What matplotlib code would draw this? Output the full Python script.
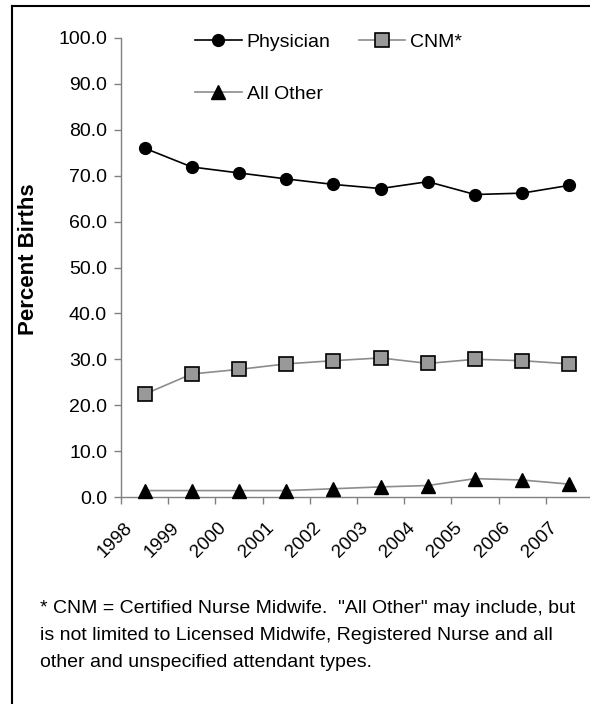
import matplotlib
matplotlib.use("Agg")
import matplotlib.pyplot as plt
import matplotlib.transforms as mtransforms
from matplotlib.lines import Line2D

plt.rcParams['font.family'] = ['Liberation Sans', 'DejaVu Sans']

# births by attendant type, percent
years = ['1998', '1999', '2000', '2001', '2002', '2003', '2004', '2005', '2006', '2007']
physician = [76.0, 71.9, 70.6, 69.3, 68.1, 67.2, 68.7, 65.9, 66.2, 67.9]
cnm = [22.4, 26.8, 27.8, 29.0, 29.7, 30.3, 29.1, 30.0, 29.7, 29.0]
all_other = [1.4, 1.4, 1.4, 1.4, 1.8, 2.2, 2.5, 4.0, 3.7, 2.8]
yticks = [0, 10, 20, 30, 40, 50, 60, 70, 80, 90, 100]
note_lines = [
    '* CNM = Certified Nurse Midwife.  "All Other" may include, but',
    'is not limited to Licensed Midwife, Registered Nurse and all',
    'other and unspecified attendant types.',
]

W, H = 590, 704
fig = plt.figure(figsize=(W / 100, H / 100), dpi=100)
# axes box in pixels (right side runs off the picture like the original crop)
left, right, top, bottom = 121, 593, 38, 497
ax = fig.add_axes([left / W, 1 - bottom / H, (right - left) / W, (bottom - top) / H])

x = list(range(len(years)))
ax.plot(x, physician, color='black', lw=1.2, marker='o', ms=8.5,
        mfc='black', mec='black', label='Physician', clip_on=False, zorder=4)
ax.plot(x, all_other, color='#8c8c8c', lw=1.2, marker='^', ms=10,
        mfc='black', mec='black', label='All Other', clip_on=False, zorder=3)
ax.plot(x, cnm, color='#8c8c8c', lw=1.2, marker='s', ms=10,
        mfc='#999999', mec='black', mew=1.2, label='CNM*', clip_on=False, zorder=3)

ax.set_xlim(-0.5, len(years) - 0.5)
ax.set_ylim(0, 100)
ax.set_yticks(yticks)
ax.set_yticklabels(['%.1f' % v for v in yticks], fontsize=14)

ax.set_xticks([i - 0.5 for i in range(len(years) + 1)])
ax.set_xticklabels([])
ax.set_xticks(x, minor=True)
ax.set_xticklabels(years, minor=True, rotation=45, ha='right', va='top', fontsize=13.5)
ax.tick_params(axis='x', which='minor', length=0, pad=16)
ax.tick_params(axis='x', which='major', length=5, color='#808080', width=1)
ax.tick_params(axis='y', length=5, color='#808080', width=1, pad=5)
shift = mtransforms.ScaledTranslation(-9 / 100, 0, fig.dpi_scale_trans)
for lab in ax.get_xticklabels(minor=True):
    lab.set_transform(lab.get_transform() + shift)

for s in ['top', 'right']:
    ax.spines[s].set_visible(False)
for s in ['left', 'bottom']:
    ax.spines[s].set_color('#808080')
    ax.spines[s].set_linewidth(1)

ax.set_ylabel('Percent Births', fontsize=16, fontweight='bold')
ax.yaxis.set_label_coords(39 / W, 1 - 259 / H, transform=fig.transFigure)

ax.legend(ncol=2, loc='upper left', bbox_to_anchor=(195 / W, 1 - 33 / H),
          bbox_transform=fig.transFigure, frameon=False, fontsize=14,
          handlelength=2.4, handletextpad=0.25, columnspacing=1.45,
          labelspacing=1.8, borderpad=0, borderaxespad=0)

for i, line in enumerate(note_lines):
    fig.text(40 / W, 1 - (613 + 27 * i) / H, line, fontsize=14, va='baseline', ha='left')

# frame edges left over from the crop
fig.add_artist(Line2D([12 / W, 12 / W], [0, 1 - 6 / H], transform=fig.transFigure,
                      color='black', lw=1.5))
fig.add_artist(Line2D([12 / W, 1], [1 - 6 / H, 1 - 6 / H], transform=fig.transFigure,
                      color='black', lw=1.5))

fig.savefig('out.png', dpi=100)
